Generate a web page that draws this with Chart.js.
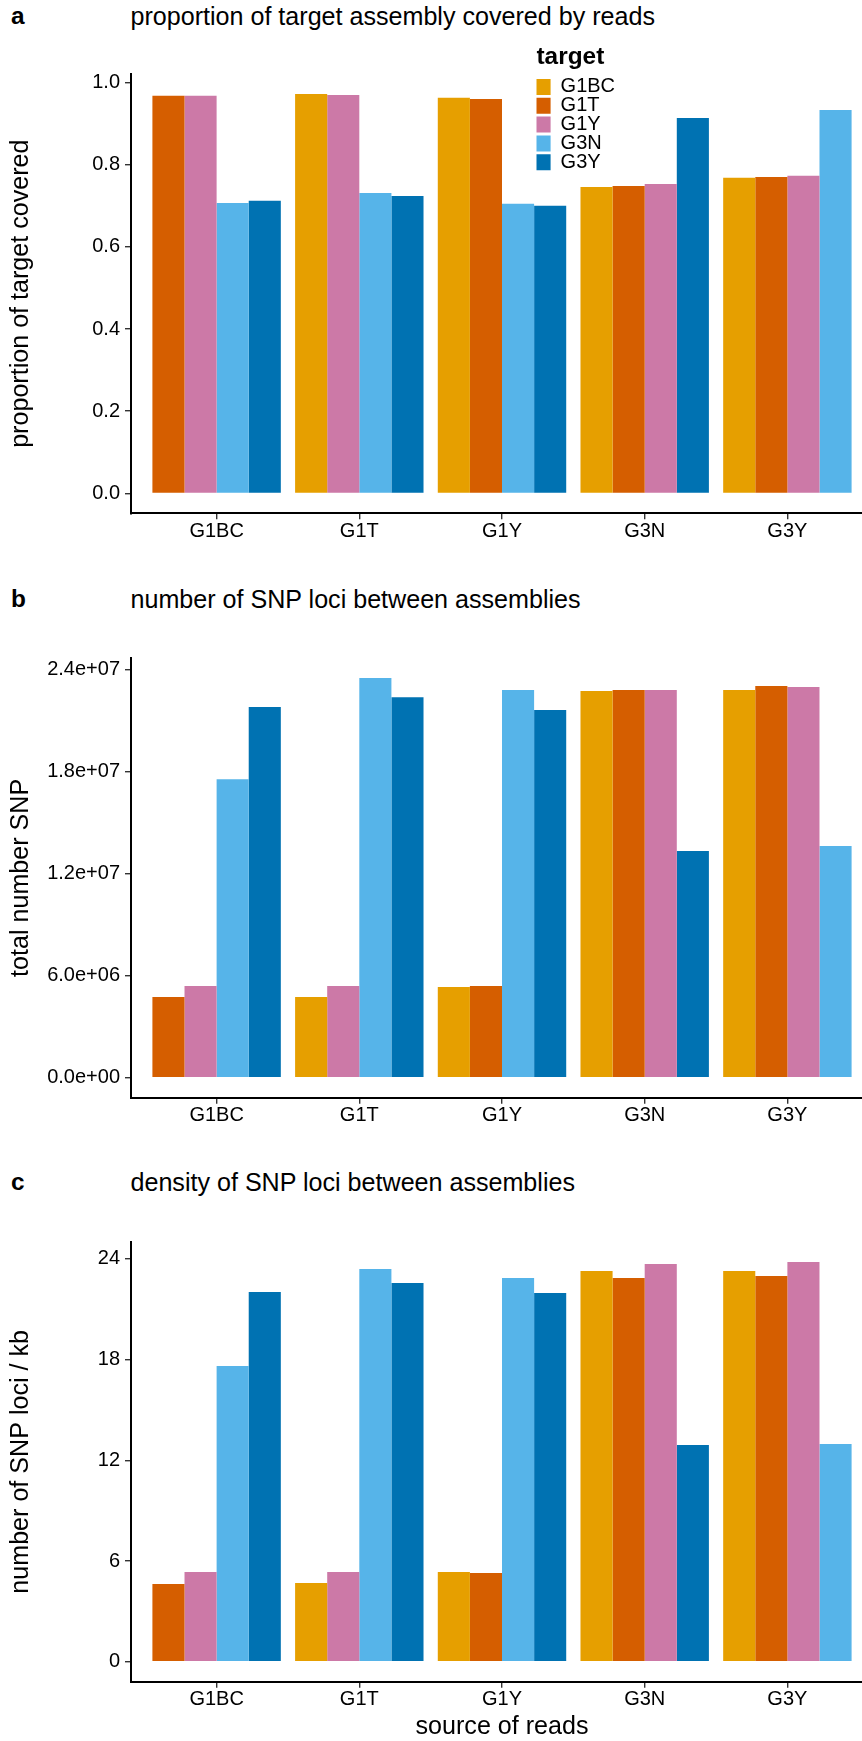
<!DOCTYPE html>
<html>
<head>
<meta charset="utf-8">
<script src="https://cdn.jsdelivr.net/npm/chart.js@4"></script>
<style>
  body { margin: 0; background: #fff; }
  #page { position: relative; width: 862px; height: 1741px; overflow: hidden; background: #fff; }
  #page canvas { position: absolute; left: 0; }
  .lab, .ttl { position: absolute; font-family: "Liberation Sans", Arial, sans-serif; font-size: 25.1px; line-height: 1; color: #000; white-space: nowrap; }
  .lab { left: 11px; font-weight: bold; font-size: 24.4px; }
  .ttl { left: 130.5px; }
</style>
</head>
<body>
<div id="page">
  <div class="lab" style="top:4.4px">a</div>
  <div class="ttl" style="top:3.8px">proportion of target assembly covered by reads</div>
  <div class="lab" style="top:587.4px">b</div>
  <div class="ttl" style="top:586.8px">number of SNP loci between assemblies</div>
  <div class="lab" style="top:1170.4px">c</div>
  <div class="ttl" style="top:1169.8px">density of SNP loci between assemblies</div>
  <canvas id="chartA" width="873" height="580" style="top:0px"></canvas>
  <canvas id="chartB" width="873" height="580" style="top:580px"></canvas>
  <canvas id="chartC" width="873" height="581" style="top:1160px"></canvas>
</div>
<script>
// source of reads (x axis)
const categories = ["G1BC", "G1T", "G1Y", "G3N", "G3Y"];
// target assembly (bar colour)
const targets = ["G1BC", "G1T", "G1Y", "G3N", "G3Y"];
const targetColors = ["#E69F00", "#D55E00", "#CC79A7", "#56B4E9", "#0072B2"];

// a: proportion of target covered, one array per target, values in source order
const coverG1BC = [null, 0.972, 0.963, 0.746, 0.768];
const coverG1T = [0.968, null, 0.960, 0.748, 0.770];
const coverG1Y = [0.968, 0.970, null, 0.753, 0.773];
const coverG3N = [0.707, 0.731, 0.705, null, 0.933];
const coverG3Y = [0.712, 0.724, 0.700, 0.914, null];

// b: total number of SNP loci
const snpG1BC = [null, 4.74e6, 5.33e6, 22.73e6, 22.79e6];
const snpG1T = [4.74e6, null, 5.39e6, 22.79e6, 23.02e6];
const snpG1Y = [5.39e6, 5.39e6, null, 22.79e6, 22.96e6];
const snpG3N = [17.55e6, 23.49e6, 22.79e6, null, 13.62e6];
const snpG3Y = [21.79e6, 22.37e6, 21.61e6, 13.32e6, null];

// c: SNP loci per kb
const densG1BC = [null, 4.69, 5.34, 23.28, 23.28];
const densG1T = [4.63, null, 5.29, 22.87, 22.99];
const densG1Y = [5.34, 5.34, null, 23.70, 23.82];
const densG3N = [17.62, 23.40, 22.87, null, 12.97];
const densG3Y = [22.03, 22.57, 21.97, 12.91, null];

// y tick values and labels
const coverTicks = [0, 0.2, 0.4, 0.6, 0.8, 1.0];
const coverTickLabels = ["0.0", "0.2", "0.4", "0.6", "0.8", "1.0"];
const snpTicks = [0, 6e6, 12e6, 18e6, 24e6];
const snpTickLabels = ["0.0e+00", "6.0e+06", "1.2e+07", "1.8e+07", "2.4e+07"];
const densTicks = [0, 6, 12, 18, 24];
const densTickLabels = ["0", "6", "12", "18", "24"];

Chart.defaults.font.family = '"Liberation Sans", Arial, sans-serif';
Chart.defaults.color = "#000";

// legend sits inside the plot, above the G1Y / G3N groups
const legendPlacer = {
  id: "legendPlacer",
  afterLayout(chart) {
    const lg = chart.legend;
    if (!lg) return;
    lg.left = 536.5;
    lg.top = 44.8;
    lg.right = lg.left + lg.width;
    lg.bottom = lg.top + 220;
  },
};

const legendOptions = {
  display: true,
  position: "chartArea",
  align: "start",
  title: {
    display: true,
    text: "target",
    position: "start",
    color: "#000",
    font: { size: 24.4, weight: "bold" },
    padding: { top: 0, bottom: 4.1 },
  },
  labels: {
    boxWidth: 15.3,
    boxHeight: 16,
    padding: -1.2,
    color: "#000",
    font: { size: 20 },
  },
};

function barDatasets(series) {
  return targets.map((name, i) => ({
    label: name,
    data: series[i],
    backgroundColor: targetColors[i],
    borderWidth: 0,
    categoryPercentage: 0.9,
    barPercentage: 1.0,
    skipNull: true,
  }));
}

function makePanel(canvasId, series, yTicks, yTickLabels, yTitle, layout) {
  const values = series.flat().filter((v) => v !== null);
  const top = Math.max(...values);
  const axisGrid = {
    drawOnChartArea: false,
    drawTicks: true,
    tickLength: 6,
    color: "#333",
    lineWidth: 1.4,
    offset: false,
  };
  const axisBorder = { display: true, color: "#000", width: 2 };

  const ctx = document.getElementById(canvasId).getContext("2d");
  return new Chart(ctx, {
    type: "bar",
    data: {
      labels: categories.map((c, i) => i + 1),
      datasets: barDatasets(series),
    },
    options: {
      responsive: false,
      animation: false,
      layout: { padding: { top: layout.top, bottom: layout.bottom, left: 0, right: 0 } },
      plugins: {
        legend: layout.legend ? legendOptions : { display: false },
        tooltip: { enabled: false },
      },
      scales: {
        x: {
          type: "linear",
          min: 0.4,
          max: 5.6,
          offset: false,
          afterBuildTicks: (scale) => {
            scale.ticks = categories.map((c, i) => ({ value: i + 1 }));
          },
          afterFit: (scale) => {
            scale.height = layout.xHeight;
          },
          ticks: {
            callback: (v) => categories[v - 1],
            font: { size: 20 },
            color: "#000",
            padding: 0,
            maxRotation: 0,
            autoSkip: false,
          },
          grid: axisGrid,
          border: axisBorder,
          title: layout.xTitle
            ? {
                display: true,
                text: layout.xTitle,
                color: "#000",
                font: { size: 25.1 },
                padding: { top: 0, bottom: -1.4 },
              }
            : { display: false },
        },
        y: {
          type: "linear",
          min: -0.05 * top,
          max: 1.05 * top,
          afterBuildTicks: (scale) => {
            scale.ticks = yTicks.map((v) => ({ value: v }));
          },
          afterFit: (scale) => {
            scale.width = 131;
          },
          ticks: {
            callback: (v, i) => yTickLabels[i],
            font: { size: 20 },
            color: "#000",
            padding: 5,
          },
          grid: axisGrid,
          border: axisBorder,
          title: {
            display: true,
            text: yTitle,
            color: "#000",
            font: { size: 25.1 },
            padding: { top: 5.9, bottom: 0 },
          },
        },
      },
    },
    plugins: layout.legend ? [legendPlacer] : [],
  });
}

document.addEventListener("DOMContentLoaded", () => {
  makePanel(
    "chartA",
    [coverG1BC, coverG1T, coverG1Y, coverG3N, coverG3Y],
    coverTicks,
    coverTickLabels,
    "proportion of target covered",
    { top: 74.1, bottom: 26.7, xHeight: 40, legend: true }
  );
  makePanel(
    "chartB",
    [snpG1BC, snpG1T, snpG1Y, snpG3N, snpG3Y],
    snpTicks,
    snpTickLabels,
    "total number SNP",
    { top: 78.1, bottom: 22.3, xHeight: 40, legend: false }
  );
  makePanel(
    "chartC",
    [densG1BC, densG1T, densG1Y, densG3N, densG3Y],
    densTicks,
    densTickLabels,
    "number of SNP loci / kb",
    { top: 82.0, bottom: 0, xHeight: 59.3, legend: false, xTitle: "source of reads" }
  );
});
</script>
</body>
</html>
